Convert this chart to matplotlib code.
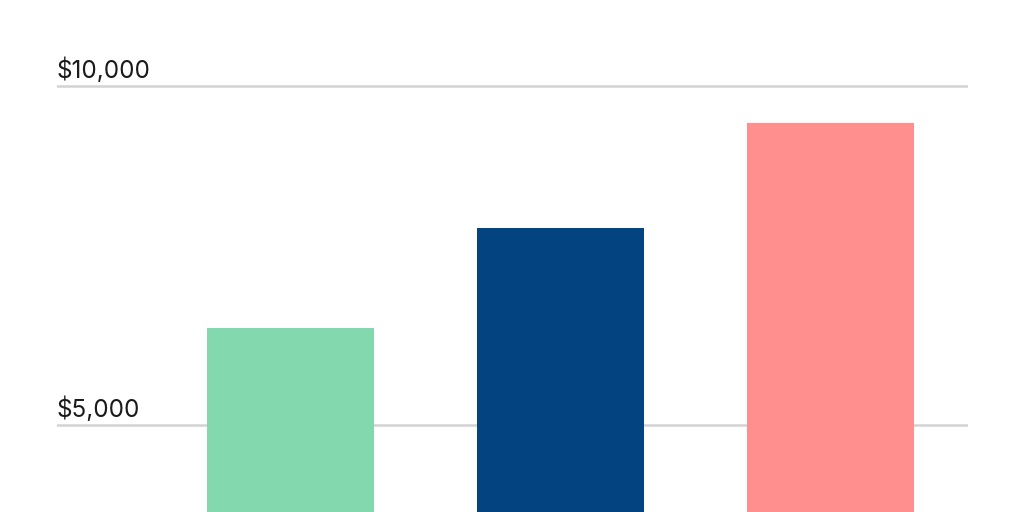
import matplotlib.pyplot as plt
from matplotlib.transforms import blended_transform_factory, offset_copy

# dados
categorias = ["A", "B", "C"]
valores = [6430, 7905, 9455]
cores = ["#84D8AE", "#034380", "#FF8F8F"]
ticks = [5000, 10000]
rotulos = ["$5,000", "$10,000"]

plt.rcParams["font.family"] = ["Inter", "DejaVu Sans"]

fig = plt.figure(figsize=(10.24, 5.12), dpi=100)
ax = fig.add_axes([57 / 1024, 0, (968 - 57) / 1024, 1])

x = list(range(len(categorias)))
ax.bar(x, valores, width=0.619, color=cores, zorder=3)

ax.set_xlim(-0.865, 2.509)
ax.set_ylim(3717, 11268)

for t in ticks:
    ax.axhline(t, color="#d3d3d3", linewidth=1.8, zorder=1)

trans = offset_copy(blended_transform_factory(ax.transAxes, ax.transData),
                    fig=fig, x=0, y=2.5, units="points")
for t, r in zip(ticks, rotulos):
    ax.text(0.0, t, r, transform=trans, ha="left", va="bottom",
            fontsize=17.5, color="#1a1a1a")

ax.axis("off")

fig.savefig("out.png", dpi=100)
